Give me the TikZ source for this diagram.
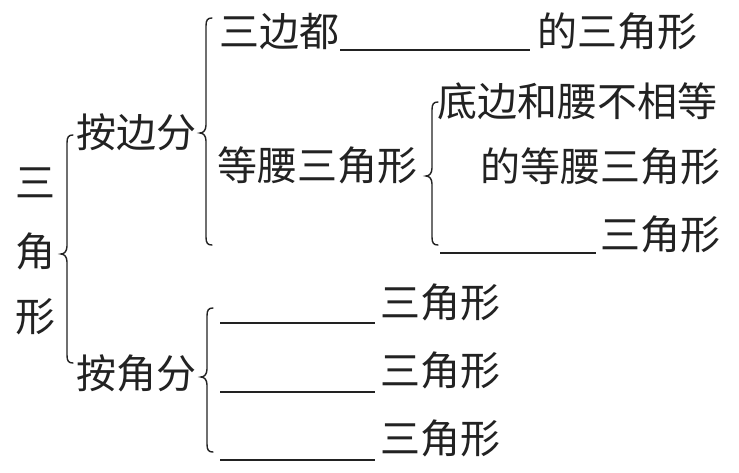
\documentclass[tikz,border=0pt]{standalone}
\usepackage{fontspec}
\newfontfamily\cjk{Noto Sans CJK SC}
\definecolor{ink}{HTML}{222222}
\newcommand\brc[4]{%
  \draw[bracestyle] (#1+6,#2) .. controls (#1+1.5,#2) and (#1,#2+2) .. (#1,#2+8)
    -- (#1,#3-8) .. controls (#1,#3-3) and (#1-2.5,#3) .. (#1-6,#3)
    .. controls (#1-2.5,#3) and (#1,#3+3) .. (#1,#3+8)
    -- (#1,#4-8) .. controls (#1,#4-2) and (#1+1.5,#4) .. (#1+6,#4);}
\begin{document}
\begin{tikzpicture}[x=1pt,y=-1pt,
  txt/.style={font=\cjk\fontsize{40}{40}\selectfont, text=ink, inner sep=0pt},
  bracestyle/.style={draw=ink, line width=1.4pt, line cap=round},
  blank/.style={draw=ink, line width=1.2pt}]
\useasboundingbox[fill=white] (0,0) rectangle (739,472);
% left vertical title
\node[txt] (t1) at (35,183) {三};
\node[txt] (t2) at (35,251) {角};
\node[txt] (t3) at (35,317) {形};
\brc{67}{135}{254}{363}
\node[txt, anchor=west] (side) at (76,132) {按边分};
\node[txt, anchor=west] (angle) at (76,373) {按角分};
% by side
\brc{206}{18}{133}{245}
\node[txt, anchor=west] (eq1) at (219,31) {三边都};
\coordinate (b1s) at (340,50); \coordinate (b1e) at (530,50);
\draw[blank] (b1s) -- (b1e);
\node[txt, anchor=west] (eq2) at (537,31) {的三角形};
\node[txt, anchor=west] (iso) at (217,165) {等腰三角形};
\brc{432}{102}{176}{245}
\node[txt, anchor=west] (sc1) at (437,101) {底边和腰不相等};
\node[txt, anchor=east] (sc2) at (721,166) {的等腰三角形};
\coordinate (b2s) at (440,253); \coordinate (b2e) at (596,253);
\draw[blank] (b2s) -- (b2e);
\node[txt, anchor=east] (sc3) at (721,234) {三角形};
% by angle
\brc{207}{308}{377}{452}
\foreach \i/\ty/\ly in {1/302/323, 2/370/392, 3/438/460}{
  \coordinate (a\i s) at (220,\ly); \coordinate (a\i e) at (375,\ly);
  \draw[blank] (a\i s) -- (a\i e);
  \node[txt, anchor=west] (at\i) at (380,\ty) {三角形};
}
\end{tikzpicture}
\end{document}
